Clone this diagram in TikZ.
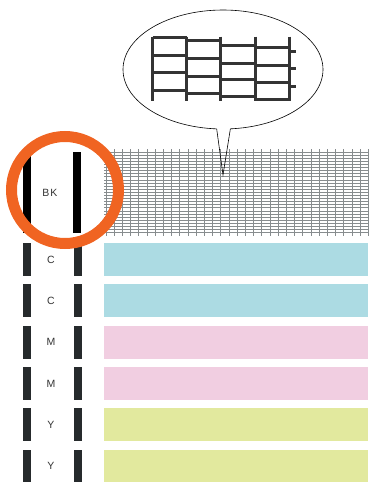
\documentclass[tikz,border=0pt]{standalone}
\usepackage{fontspec}
\setsansfont{Liberation Sans}
\usetikzlibrary{shapes.geometric, calc}
\definecolor{ringorange}{RGB}{240,100,34}
\definecolor{inkbar}{RGB}{38,42,44}
\definecolor{gridgray}{RGB}{135,140,142}
\definecolor{nozzle}{RGB}{52,52,52}
\definecolor{cyanstrip}{RGB}{172,219,227}
\definecolor{pinkstrip}{RGB}{241,206,225}
\definecolor{yellowstrip}{RGB}{226,233,158}

\begin{document}
\begin{tikzpicture}[x=1pt, y=-1pt,
  bar/.style={fill=inkbar, minimum width=8pt, minimum height=33pt, inner sep=0pt},
  bkbar/.style={fill=black, minimum width=8pt, minimum height=81pt, inner sep=0pt},
  strip/.style={minimum width=264pt, minimum height=33pt, inner sep=0pt, anchor=west},
  lbl/.style={font=\sffamily\fontsize{10.5}{12}\selectfont, text=black!80},
  nozzleline/.style={draw=nozzle, line width=3pt}]
  \useasboundingbox (0,0) rectangle (368,482);

  \node[ellipse, draw, fill=white, line width=0.6pt, minimum width=200pt, minimum height=119pt, inner sep=0pt] (bubble) at (223,69.5) {};
  \coordinate (tip) at (223,175);
  \fill[white] ($(bubble.-96)+(0,-2)$) -- (tip) -- ($(bubble.-83)+(0,-2)$) -- cycle;

  \foreach \x in {152.7,186.7,220.7,255,289}
    \draw[nozzleline] (\x,36.5) -- (\x,101);
  \foreach \xa/\xb/\ya/\yb/\yc/\yd in {152.7/186.7/37.7/55/72.7/90, 186.7/220.7/40.7/58.3/76/93.3,
      220.7/255/45.7/63.3/79.3/96.7, 255/289/47.7/65/82.3/99}
    \foreach \y in {\ya,\yb,\yc,\yd}
      \draw[nozzleline] (\xa,\y) -- (\xb,\y);
  \foreach \y in {51,68.3,86}
    \draw[nozzleline] (289,\y) -- (296,\y);

  \foreach \k in {0,...,26}
    \draw[gridgray, line width=0.7pt] (104,152+3.1*\k) -- (368,152+3.1*\k);
  \foreach \k in {0,...,32}
    \draw[gridgray, line width=0.9pt] (106+8.2*\k,149) -- (106+8.2*\k,236);
  \draw[line width=0.6pt] (bubble.-96) -- (tip) -- (bubble.-83);

  \node[bkbar] (bkl) at (27,192.5) {};
  \node[bkbar] (bkr) at (77,192.5) {};
  \node[lbl] (bk) at (50,193) {B\kern1pt K};

  \foreach \name/\col [count=\i from 0] in {C/cyanstrip, C/cyanstrip, M/pinkstrip, M/pinkstrip, Y/yellowstrip, Y/yellowstrip} {
    \node[bar] (barl\i) at (27,259.5+41.3*\i) {};
    \node[bar] (barr\i) at (77.5,259.5+41.3*\i) {};
    \node[lbl] (lbl\i) at (51,259.5+41.3*\i) {\name};
    \node[strip, fill=\col] (strip\i) at (104,259.5+41.3*\i) {};
  }

  \draw[ringorange, line width=11pt] (65,190) circle[radius=53.5];
\end{tikzpicture}
\end{document}
